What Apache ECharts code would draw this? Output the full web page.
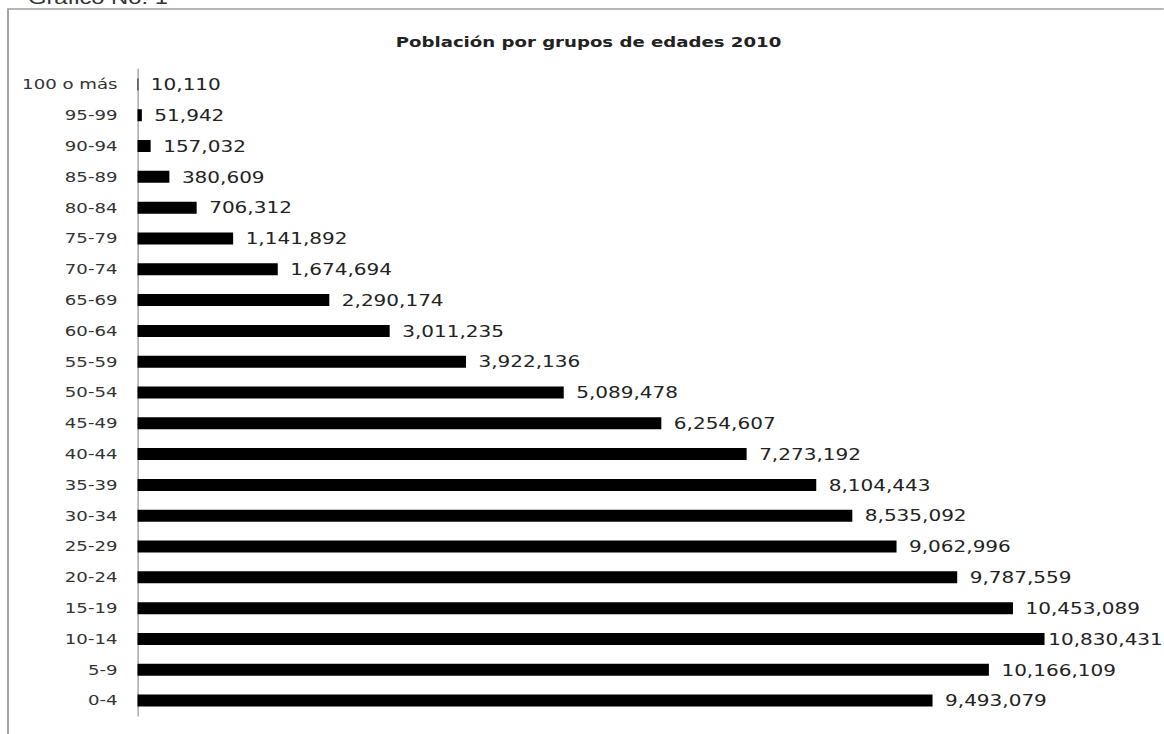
<!DOCTYPE html>
<html>
<head>
<meta charset="utf-8">
<script src="https://cdn.jsdelivr.net/npm/echarts@6/dist/echarts.min.js"></script>
<style>
  html, body { margin: 0; padding: 0; background: #fff; overflow: hidden; }
  /* the original picture is stretched sideways, so the whole chart is too */
  #main { width: 931.2px; height: 734px; transform: scaleX(1.25); transform-origin: 0 0; }
</style>
</head>
<body>
<div id="main"></div>
<script>
var grupos = ['0-4', '5-9', '10-14', '15-19', '20-24', '25-29', '30-34', '35-39', '40-44', '45-49',
  '50-54', '55-59', '60-64', '65-69', '70-74', '75-79', '80-84', '85-89', '90-94', '95-99', '100 o más']
var poblacion = [9493079, 10166109, 10830431, 10453089, 9787559, 9062996, 8535092, 8104443, 7273192, 6254607,
  5089478, 3922136, 3011235, 2290174, 1674694, 1141892, 706312, 380609, 157032, 51942, 10110]

var myChart = echarts.init(document.getElementById('main'), null, { renderer: 'svg' })

// la barra mas larga lleva la etiqueta un poco mas pegada para que quepa
var maxVal = Math.max.apply(null, poblacion)
var barData = poblacion.map(function (v) {
  return v === maxVal ? { value: v, label: { distance: 3 } } : v
})

var option = {
  animation: false,
  graphic: [
    {
      // marco del gráfico
      type: 'rect',
      shape: { x: 6.4, y: 9, width: 2000, height: 2000 },
      style: { fill: 'none', stroke: '#a0a0a0', lineWidth: 1.5 },
      silent: true,
    },
    {
      // encabezado cortado arriba
      type: 'text',
      left: 22.4,
      top: -12,
      style: { text: 'Gráfico No. 1', fontFamily: 'Liberation Sans', fontSize: 19, fill: '#333' },
    },
    {
      type: 'text',
      x: 470.8,
      y: 42,
      style: {
        text: 'Población por grupos de edades 2010',
        align: 'center',
        verticalAlign: 'middle',
        fontFamily: 'DejaVu Sans',
        fontSize: 14.5,
        fontWeight: 'bold',
        fill: '#222',
      },
    },
  ],
  grid: { left: 110, top: 69, width: 804, bottom: 18 },
  xAxis: {
    type: 'value',
    min: 0,
    max: 12000000,
    show: false,
  },
  yAxis: {
    type: 'category',
    data: grupos,
    axisLine: { lineStyle: { color: '#999', width: 1 } },
    axisTick: { show: false },
    axisLabel: { margin: 16, fontFamily: 'DejaVu Sans', fontSize: 14.5, color: '#333' },
  },
  series: [
    {
      type: 'bar',
      data: barData,
      barWidth: 12,
      itemStyle: { color: '#000' },
      label: {
        show: true,
        position: 'right',
        distance: 10,
        fontFamily: 'DejaVu Sans',
        fontSize: 16,
        color: '#222',
        formatter: function (p) { return p.value.toLocaleString('en-US') },
      },
    },
  ],
}
myChart.setOption(option)
</script>
</body>
</html>
